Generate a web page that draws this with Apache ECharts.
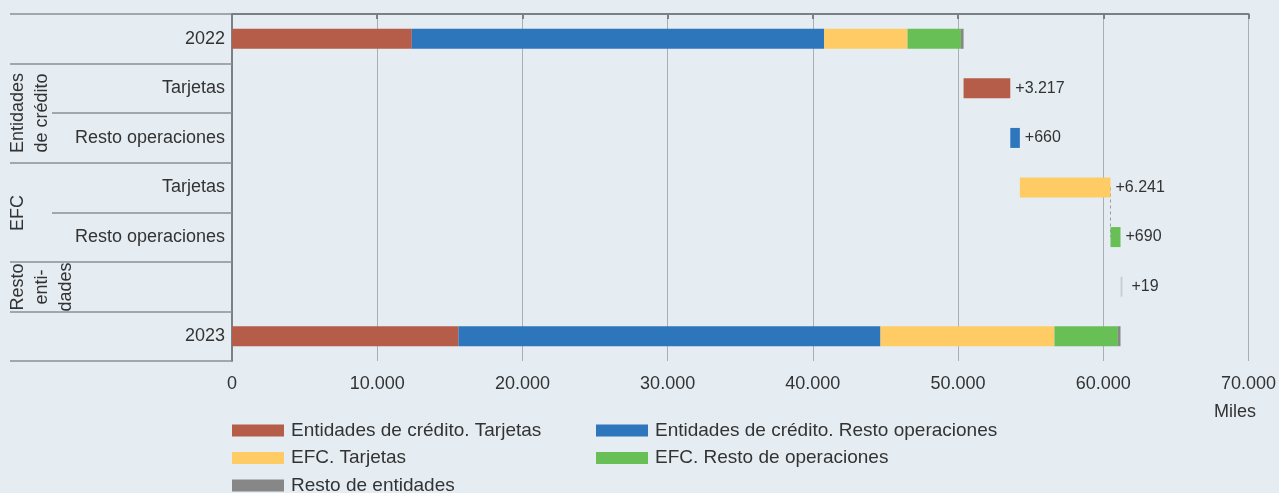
<!DOCTYPE html>
<html>
<head>
<meta charset="UTF-8">
<title>Waterfall 2022-2023</title>
<style>
  html, body { margin: 0; padding: 0; background: #e5edf3; }
  #chart { width: 1279px; height: 493px; }
</style>
</head>
<body>
<div id="chart"></div>
<script src="https://cdn.jsdelivr.net/npm/echarts@6/dist/echarts.min.js"></script>
<script>
// row keys (top to bottom) and the text shown next to each row
var categories = ['2022', 'EC Tarjetas', 'EC Resto', 'EFC Tarjetas', 'EFC Resto', 'Resto entidades', '2023'];
var tickLabels = ['2022', 'Tarjetas', 'Resto operaciones', 'Tarjetas', 'Resto operaciones', '', '2023'];

// thousands of euros
var ecTarjetas  = [12380, 3217, '-', '-', '-', '-', 15597];
var ecResto     = [28400, '-', 660, '-', '-', '-', 29060];
var efcTarjetas = [5740, '-', '-', 6241, '-', '-', 11981];
var efcResto    = [3680, '-', '-', '-', 690, '-', 4370];
var restoEnt    = [180, '-', '-', '-', '-', 19, 179];

var xTicks = [0, 10000, 20000, 30000, 40000, 50000, 60000, 70000];
var deltaRows = [1, 2, 3, 4, 5];

var seriesNames = [
  'Entidades de crédito. Tarjetas',
  'Entidades de crédito. Resto operaciones',
  'EFC. Tarjetas',
  'EFC. Resto de operaciones',
  'Resto de entidades'
];
var colors = ['#b55d49', '#2e76bb', '#fecb64', '#68bf56', '#878787'];

function fmt(v) {
  return String(v).replace(/\B(?=(\d{3})+(?!\d))/g, '.');
}

// invisible offsets of the waterfall: total of 2022, then running sums of the changes
var allSeries = [ecTarjetas, ecResto, efcTarjetas, efcResto, restoEnt];
var start = 0;
allSeries.forEach(function (s) { start += s[0]; });
var base = [0];
for (var r = 1; r <= 5; r++) {
  base.push(start);
  allSeries.forEach(function (s) { if (s[r] !== '-') start += s[r]; });
}
base.push(0);

var font = "'Liberation Sans', Arial, sans-serif";
var txt = '#333';

var series = [{
  name: 'link',
  type: 'line',
  z: 1,
  symbol: 'none',
  silent: true,
  data: [[base[4], categories[3]], [base[4], categories[4]]],
  lineStyle: { color: '#9a9a9a', width: 1, type: [3, 3] }
}, {
  name: 'base',
  type: 'bar',
  stack: 'total',
  silent: true,
  barWidth: 20,
  itemStyle: { color: 'transparent' },
  data: base
}];

allSeries.forEach(function (s, i) {
  var data = s.map(function (v, idx) {
    if (i === 4 && idx === 5) return { value: v, itemStyle: { color: '#c9cfd4' } };
    return v;
  });
  series.push({
    name: seriesNames[i],
    type: 'bar',
    stack: 'total',
    barWidth: 20,
    barMinHeight: i === 4 ? 2 : 0,
    itemStyle: { color: colors[i] },
    label: {
      show: true,
      position: 'right',
      distance: i === 4 ? 9 : 5,
      fontFamily: font,
      fontSize: 16,
      color: txt,
      formatter: function (p) {
        return deltaRows.indexOf(p.dataIndex) >= 0 ? '+' + fmt(p.value) : '';
      }
    },
    data: data
  });
});

function legendBlock(names, left) {
  return {
    data: names,
    orient: 'vertical',
    left: left,
    top: 421,
    height: 80,
    padding: 0,
    icon: 'rect',
    itemWidth: 52,
    itemHeight: 12,
    itemGap: 8.5,
    textStyle: { fontSize: 19, color: txt, padding: [0, 0, 0, 2] }
  };
}

var chart = echarts.init(document.getElementById('chart'));
chart.setOption({
  backgroundColor: '#e5edf3',
  animation: false,
  textStyle: { fontFamily: font },
  grid: { left: 232, right: 29, top: 14, bottom: 132, containLabel: false },
  xAxis: [{
    type: 'value',
    position: 'bottom',
    min: xTicks[0],
    max: xTicks[xTicks.length - 1],
    interval: 10000,
    axisLine: { show: false },
    axisTick: { show: false },
    splitLine: { show: true, lineStyle: { color: '#a9afb4', width: 1 } },
    axisLabel: {
      margin: 14,
      fontSize: 18,
      color: txt,
      formatter: function (v) { return fmt(v); }
    }
  }, {
    type: 'value',
    position: 'top',
    min: xTicks[0],
    max: xTicks[xTicks.length - 1],
    interval: 10000,
    axisLine: { show: true, lineStyle: { color: '#7b8085', width: 2 } },
    axisTick: { show: true, inside: true, length: 5, lineStyle: { color: '#7b8085', width: 2 } },
    axisLabel: { show: false },
    splitLine: { show: false }
  }],
  yAxis: [{
    type: 'category',
    position: 'left',
    inverse: true,
    data: categories,
    axisLine: { show: true, lineStyle: { color: '#7b8085', width: 2 } },
    axisTick: { show: true, length: 180, interval: 0, lineStyle: { color: '#8c9095', width: 1.5 } },
    axisLabel: {
      margin: 7,
      fontSize: 18,
      color: txt,
      formatter: function (v, i) { return tickLabels[i]; }
    }
  }, {
    type: 'category',
    position: 'left',
    inverse: true,
    data: categories,
    axisLine: { show: false },
    axisTick: {
      show: true,
      length: 222,
      interval: function (i) { return i === 0 || i === 1 || i === 3 || i === 5 || i === 6; },
      lineStyle: { color: '#8c9095', width: 1.5 }
    },
    axisLabel: { show: false }
  }],
  legend: [
    legendBlock([seriesNames[0], seriesNames[2], seriesNames[4]], 232),
    legendBlock([seriesNames[1], seriesNames[3]], 596)
  ],
  graphic: [{
    type: 'text',
    x: 30, y: 113,
    rotation: Math.PI / 2,
    style: { text: 'Entidades\nde crédito', font: '18px ' + font, fill: txt, align: 'center', verticalAlign: 'middle', lineHeight: 24 }
  }, {
    type: 'text',
    x: 18, y: 213,
    rotation: Math.PI / 2,
    style: { text: 'EFC', font: '18px ' + font, fill: txt, align: 'center', verticalAlign: 'middle' }
  }, {
    type: 'text',
    x: 42, y: 287,
    rotation: Math.PI / 2,
    style: { text: 'Resto\nenti-\ndades', font: '18px ' + font, fill: txt, align: 'center', verticalAlign: 'middle', lineHeight: 24 }
  }, {
    type: 'text',
    x: 1235, y: 412,
    style: { text: 'Miles', font: '18px ' + font, fill: txt, align: 'center', verticalAlign: 'middle' }
  }],
  series: series
});
</script>
</body>
</html>
